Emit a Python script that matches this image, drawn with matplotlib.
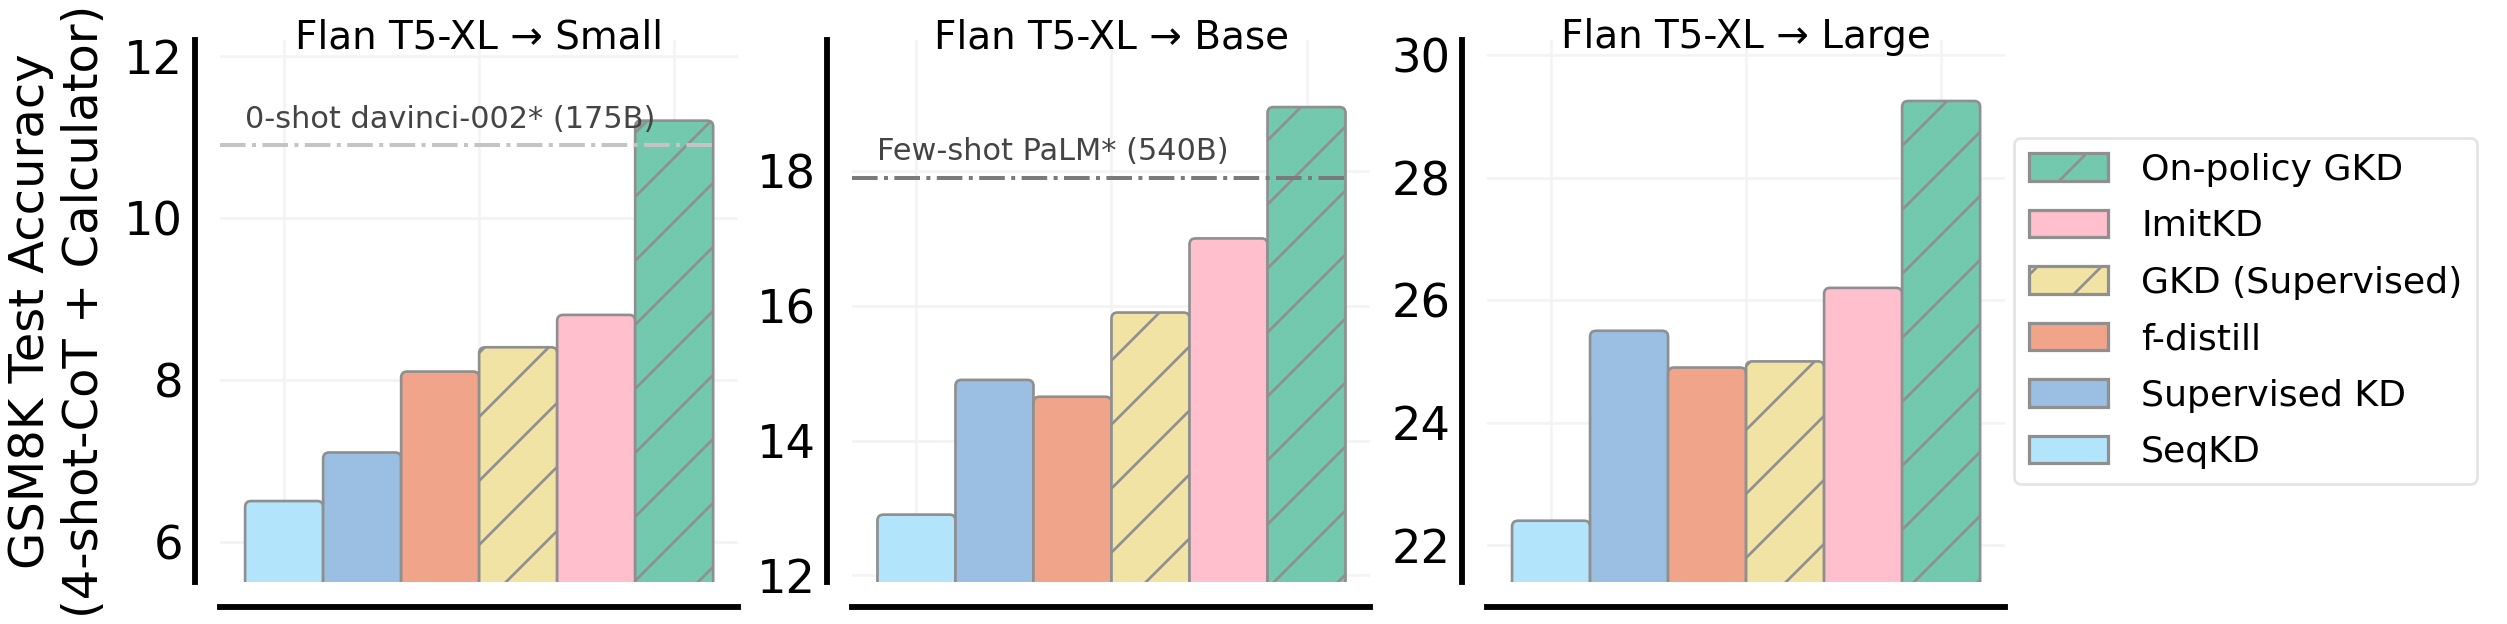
import numpy as np
import matplotlib
matplotlib.use('Agg')
import matplotlib.pyplot as plt
from matplotlib.patches import FancyBboxPatch, Patch

methods = ['SeqKD', 'Supervised KD', 'f-distill', 'GKD (Supervised)', 'ImitKD', 'On-policy GKD']
colors = ['#b2e4fb', '#9abfe3', '#f0a58b', '#f0e3a3', '#ffbfcc', '#72c9ae']
hatches = ['', '', '', '//', '', '//']

titles = ['Flan T5-XL → Small', 'Flan T5-XL → Base', 'Flan T5-XL → Large']
acc_small = [6.5, 7.1, 8.1, 8.4, 8.8, 11.2]
acc_base = [12.9, 14.9, 14.65, 15.9, 17.0, 18.95]
acc_large = [22.4, 25.5, 24.9, 25.0, 26.2, 29.25]
all_acc = [acc_small, acc_base, acc_large]

ref_values = [10.9, 17.9, None]
ref_labels = ['0-shot davinci-002* (175B)', 'Few-shot PaLM* (540B)', None]
ref_colors = ['#c4c4c4', '#7a7a7a', None]

DPI = 384
plt.rcParams['font.family'] = 'DejaVu Sans'
plt.rcParams['hatch.linewidth'] = 0.5
plt.rcParams['hatch.color'] = '#888888'

fig = plt.figure(figsize=(2507.3 / DPI, 624.3 / DPI), dpi=DPI)
lefts = [0.0878, 0.3400, 0.5931]
w, b, h = 0.2066, 0.0673, 0.8686
edge = '#8f8f8f'
x = np.arange(len(methods))
xlo, xhi = -0.82, 5.82

axes = []
for i, acc in enumerate(all_acc):
    ax = fig.add_axes([lefts[i], b, w, h])
    axes.append(ax)
    ax.set_xlim(xlo, xhi)
    ax.set_ylim(min(acc) - 1, max(acc) + 1)
    ax.yaxis.set_major_locator(plt.MultipleLocator(2))
    ax.set_xticks([0, 2.5, 5])
    ax.set_xticklabels([])
    ax.tick_params(axis='both', length=0, labelsize=8.7, pad=2.2)
    ax.grid(True, color='#f3f3f3', lw=0.5)
    ax.set_axisbelow(True)
    for s in ['top', 'right']:
        ax.spines[s].set_visible(False)
    for s in ['left', 'bottom']:
        ax.spines[s].set_position(('outward', 4.7))
        ax.spines[s].set_linewidth(1.1)
        ax.spines[s].set_color('black')

    bars = ax.bar(x, acc, width=1.0, color=colors, edgecolor=edge, linewidth=0.5)
    # swap plain bars for rounded ones
    px = ax.transData.transform([[0, 0], [1, 1]])
    ux = 1.0 / (px[1, 0] - px[0, 0])
    uy = 1.0 / (px[1, 1] - px[0, 1])
    r = 6 * ux
    for j, p in enumerate(bars.patches):
        fb = FancyBboxPatch((p.get_x(), p.get_y()), p.get_width(), p.get_height(),
                            boxstyle=f'round,pad=0,rounding_size={r}',
                            mutation_aspect=uy / ux,
                            facecolor=colors[j], edgecolor=edge, linewidth=0.5,
                            hatch=hatches[j], zorder=2)
        ax.add_patch(fb)
        p.remove()

    if ref_values[i] is not None:
        ax.hlines(ref_values[i], xlo, x[-1] + 0.5, colors=ref_colors[i],
                  linestyles='-.', lw=0.75, zorder=3)
        ax.annotate(ref_labels[i], xy=(-0.5, ref_values[i]), xytext=(0, 2.2),
                    textcoords='offset points', fontsize=5.7, color='#444444',
                    ha='left', va='bottom')

    ax.set_title(titles[i], fontsize=7.3, y=0.985, pad=0)

axes[0].set_ylabel('GSM8K Test Accuracy\n(4-shot-CoT + Calculator)', fontsize=9, labelpad=3)

handles = [Patch(facecolor=colors[j], edgecolor=edge, linewidth=0.6, hatch=hatches[j],
                 label=methods[j]) for j in reversed(range(len(methods)))]
leg = axes[2].legend(handles=handles, loc='center left', bbox_to_anchor=(1.0, 0.5),
                     fontsize=6.8, handlelength=2.2, handleheight=0.8,
                     handletextpad=0.9, labelspacing=0.62, borderaxespad=0.25,
                     frameon=True, fancybox=True)
leg.get_frame().set_edgecolor('#dddddd')
leg.get_frame().set_linewidth(0.5)

fig.savefig('out.png', dpi=DPI)
